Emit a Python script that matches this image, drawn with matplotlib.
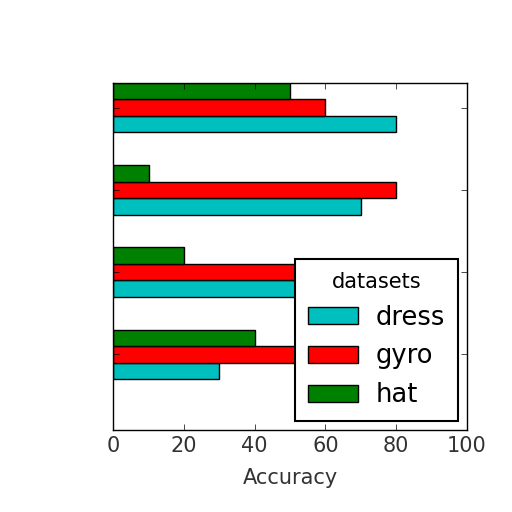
import matplotlib
matplotlib.use("Agg")
import matplotlib.pyplot as plt
import numpy as np

plt.style.use("classic")

groups = ["a", "b", "c", "d"]
series_names = ["dress", "gyro", "hat"]
dress = [30, 60, 70, 80]
gyro = [65, 70, 80, 60]
hat = [40, 20, 10, 50]
colors = ["c", "r", "g"]
xticks = [0, 20, 40, 60, 80, 100]

fig = plt.figure(figsize=(5.12, 5.12), dpi=100)
fig.patch.set_facecolor("white")
ax = fig.add_axes([0.221, 0.160, 0.691, 0.678])

y = np.arange(len(groups))
bw = 0.2
for i, (vals, name, col) in enumerate(zip([dress, gyro, hat], series_names, colors)):
    ax.barh(y + (i - 1) * bw, vals, height=bw, color=col, edgecolor="black",
            label=name, align="center")

ax.set_xlim(0, 100)
ax.set_ylim(-0.92, 3.3)
ax.set_xticks(xticks)
ax.set_xticklabels([str(v) for v in xticks], fontsize=15, color="#333333")
ax.set_yticks(y)
ax.set_yticklabels([])
ax.set_xlabel("Accuracy", fontsize=15, color="#333333", labelpad=9)
leg = ax.legend(title="datasets", loc="lower right", fontsize=18.5,
                handlelength=1.95, handleheight=0.65, borderpad=0.5,
                labelspacing=0.5, handletextpad=0.7, fancybox=False,
                borderaxespad=0.35)
leg.get_title().set_fontsize(15)
leg.get_frame().set_linewidth(1.5)

fig.savefig("out.png", dpi=100, facecolor="white")
